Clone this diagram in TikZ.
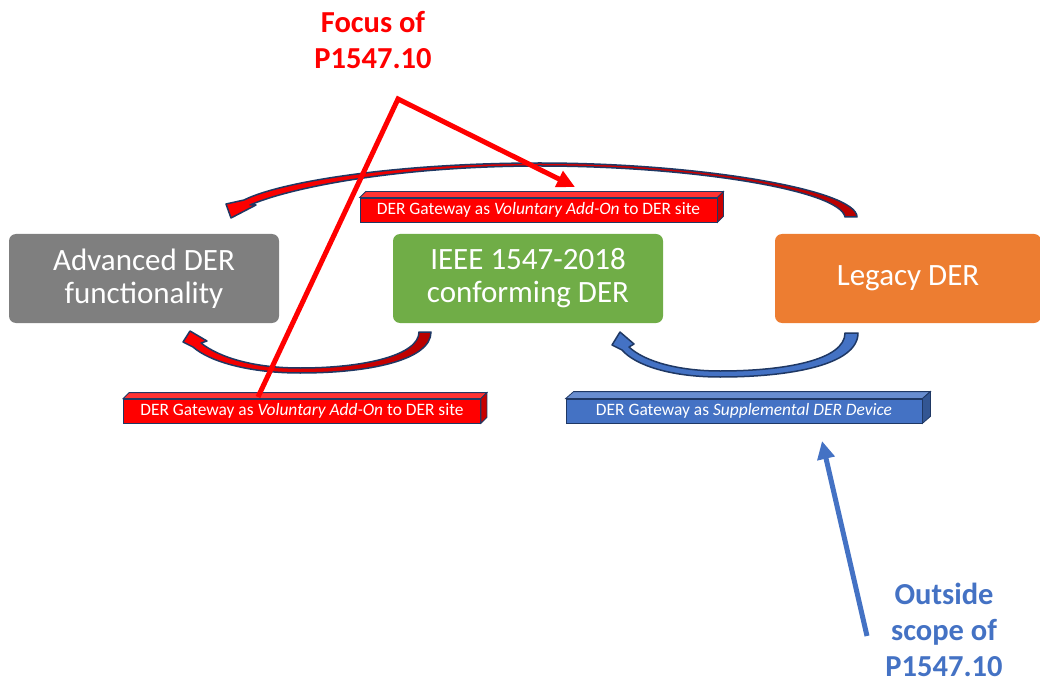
\documentclass[tikz,border=0pt]{standalone}
\usepackage{fontspec}
\setmainfont{Carlito}
\usetikzlibrary{arrows.meta,calc}

\definecolor{navy}{RGB}{31,56,100}
\definecolor{boxgray}{RGB}{127,127,127}
\definecolor{boxgreen}{RGB}{112,173,71}
\definecolor{boxorange}{RGB}{237,125,49}
\definecolor{barblue}{RGB}{68,114,196}
\definecolor{notered}{RGB}{255,0,0}

\tikzset{
  derbox/.style={rectangle, rounded corners=7pt, minimum width=270pt, minimum height=89pt,
    inner sep=0pt, text=white, align=center, font=\fontsize{31}{33}\selectfont},
  bar/.style={rectangle, draw=navy, line width=0.8pt, minimum width=357pt, minimum height=24pt,
    inner sep=0pt, text=white, font=\fontsize{17.4}{19}\selectfont},
  bandarrow/.style={draw=navy, line width=1.5pt, line join=round},
  callout/.style={line width=5pt, -{Triangle[length=18pt,width=17pt]}},
  note/.style={font=\bfseries\fontsize{30.5}{36}\selectfont, align=center, inner sep=1pt},
}

\begin{document}
\begin{tikzpicture}[x=1pt, y=-1pt]
  \useasboundingbox (0,0) rectangle (1040,684);

  % Drei Stufen der DER-Funktionalitaet
  \node[derbox, fill=boxgray]   (adv)    at (144,278.5) {Advanced DER\\functionality};
  \node[derbox, fill=boxgreen]  (ieee)   at (528,278.5) {IEEE 1547-2018\\conforming DER};
  \node[derbox, fill=boxorange, minimum width=266pt] (legacy) at (908,278.5) {Legacy DER};

  % Gebogene Blockpfeile
  \path[bandarrow, left color=notered, right color=notered!72!black]
    (857,217) .. controls (857,190) and (700,163) .. (540,163)
    .. controls (400,163) and (282,181) .. (244,200)
    -- (226,204) -- (231,218) -- (256,205) -- (250,205)
    .. controls (292,187) and (400,166) .. (540,166)
    .. controls (690,166) and (840,190) .. (845,217) -- cycle;
  \path[bandarrow, left color=notered, right color=notered!72!black]
    (431,332) .. controls (431,360) and (370,373) .. (300,373)
    .. controls (250,373) and (210,362) .. (193,347)
    -- (183,342) -- (190,331) -- (207,341) -- (201,343)
    .. controls (220,358) and (255,368) .. (300,368)
    .. controls (365,368) and (419,355) .. (419,332) -- cycle;
  \path[bandarrow, fill=barblue]
    (858,333) .. controls (858,365) and (790,377) .. (720,377)
    .. controls (670,377) and (635,365) .. (622,350)
    -- (612,345) -- (620,332) -- (634,344) -- (629,347)
    .. controls (645,362) and (680,371) .. (720,371)
    .. controls (785,371) and (845,360) .. (845,333) -- cycle;

  % Gateway-Balken (3D)
  \node[bar, fill=notered] (topbar) at (538.5,210) {DER Gateway as \textit{Voluntary Add-On} to DER site};
  \draw[navy, line width=0.8pt, fill=notered!80!white]
    (topbar.north west) -- ++(6,-6) -- ($(topbar.north east)+(6,-6)$) -- (topbar.north east) -- cycle;
  \draw[navy, line width=0.8pt, fill=notered!78!black]
    (topbar.north east) -- ++(6,-6) -- ($(topbar.south east)+(6,-6)$) -- (topbar.south east) -- cycle;

  \node[bar, fill=notered] (leftbar) at (302,411) {DER Gateway as \textit{Voluntary Add-On} to DER site};
  \draw[navy, line width=0.8pt, fill=notered!80!white]
    (leftbar.north west) -- ++(6,-6) -- ($(leftbar.north east)+(6,-6)$) -- (leftbar.north east) -- cycle;
  \draw[navy, line width=0.8pt, fill=notered!78!black]
    (leftbar.north east) -- ++(6,-6) -- ($(leftbar.south east)+(6,-6)$) -- (leftbar.south east) -- cycle;

  \node[bar, fill=barblue, minimum width=356pt] (bluebar) at (744,411) {DER Gateway as \textit{Supplemental DER Device}};
  \draw[navy, line width=0.8pt, fill=barblue!80!white]
    (bluebar.north west) -- ++(8,-7) -- ($(bluebar.north east)+(8,-7)$) -- (bluebar.north east) -- cycle;
  \draw[navy, line width=0.8pt, fill=barblue!75!black]
    (bluebar.north east) -- ++(8,-7) -- ($(bluebar.south east)+(8,-7)$) -- (bluebar.south east) -- cycle;

  % Hinweise mit Pfeilen
  \node[note, text=notered] (focus) at (373,40) {Focus of\\P1547.10};
  \coordinate (bend) at (398,99);
  \coordinate (hittop)  at (575,187);
  \coordinate (hitleft) at (258,397);
  \draw[callout, notered, line join=miter] (hitleft) -- (bend) -- (hittop);

  \node[note, text=barblue] (outside) at (944,630) {Outside\\scope of\\P1547.10};
  \coordinate (tailblue) at (867,636);
  \coordinate (hitblue)  at (822,441);
  \draw[callout, barblue] (tailblue) -- (hitblue);
\end{tikzpicture}
\end{document}
